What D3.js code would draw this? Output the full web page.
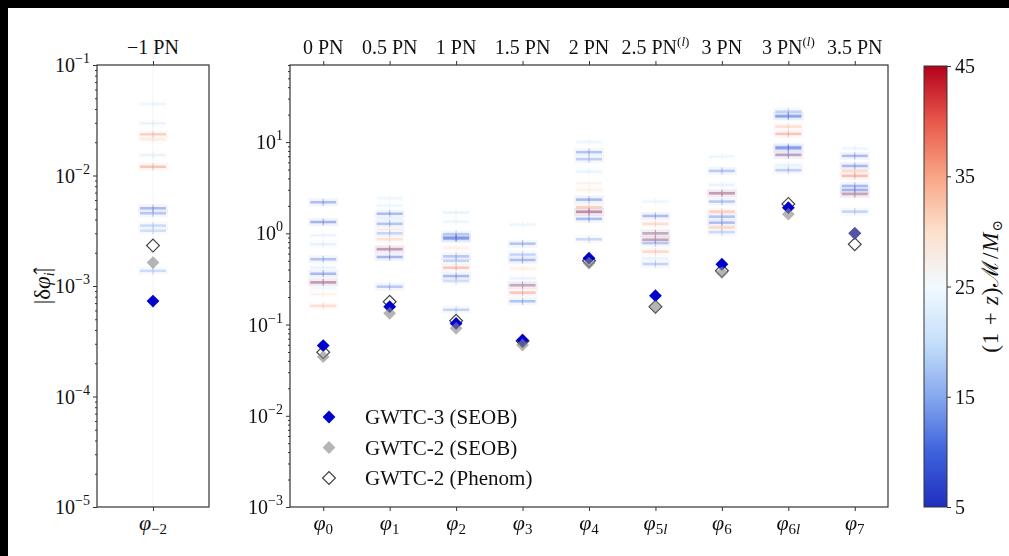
<!DOCTYPE html>
<html>
<head>
<meta charset="utf-8">
<script src="https://cdn.jsdelivr.net/npm/d3@7"></script>
<style>
  html, body { margin: 0; padding: 0; background: #000; }
  svg { display: block; }
  text { font-family: "Liberation Serif", "DejaVu Serif", serif; fill: #111; }
</style>
</head>
<body>
<svg id="chart" width="1009" height="556"></svg>
<script>
// ---- PN deformation coefficients (main panel) ----
const coeffSubs = ["0", "1", "2", "3", "4", "5l", "6", "6l", "7"];
const pnOrders  = ["0", "0.5", "1", "1.5", "2", "2.5", "3", "3", "3.5"];
const pnLogSup  = [false, false, false, false, false, true, false, true, false];

// Combined 90% upper bounds on |δφ_i|
const seob3   = [0.0588, 0.157, 0.103, 0.0673, 0.533, 0.207, 0.458, 1.91, 1.00];
const seob2   = [0.0445, 0.133, 0.091, 0.0597, 0.470, 0.157, 0.371, 1.62, 1.00];
const phenom2 = [0.0497, 0.178, 0.110, 0.0660, 0.500, 0.157, 0.390, 2.10, 0.76];

// Individual-event bounds and their detector-frame chirp masses
const eventBounds = [
  [2.19, 1.33, 0.95, 0.76, 0.52, 0.42, 0.36, 0.29, 0.29, 0.25, 0.215, 0.16],
  [2.43, 2.00, 1.64, 1.45, 1.27, 1.11, 1.00, 0.86, 0.67, 0.67, 0.55, 0.26],
  [1.69, 1.34, 0.98, 0.90, 0.87, 0.69, 0.56, 0.50, 0.42, 0.34, 0.30, 0.145],
  [1.24, 0.77, 0.585, 0.51, 0.41, 0.32, 0.27, 0.27, 0.224, 0.18],
  [10.0, 7.75, 6.50, 4.75, 3.54, 2.99, 2.34, 1.93, 1.72, 1.72, 1.44, 0.86],
  [2.23, 1.55, 1.27, 1.00, 1.00, 0.85, 0.85, 0.78, 0.63, 0.53, 0.46],
  [6.93, 4.83, 3.39, 2.75, 2.75, 2.23, 1.73, 1.52, 1.31, 1.16, 1.03],
  [21.6, 19.4, 19.0, 14.8, 12.3, 8.8, 8.5, 7.24, 7.24, 5.6, 4.92],
  [8.50, 7.06, 5.48, 4.83, 4.26, 3.31, 2.99, 2.70, 2.70, 1.73]
];
const eventMasses = [
  [10, 8, 22, 20, 11, 21, 9, 8, 38, 23, 29, 34],
  [22, 22, 10, 21, 11, 30, 14, 33, 9, 38, 8, 12],
  [21, 22, 13, 8, 9, 30, 12, 14, 38, 9, 16, 14],
  [22, 11, 14, 10, 30, 21, 9, 36, 38, 11],
  [22, 11, 13, 21, 29, 30, 9, 36, 9, 40, 10, 15],
  [22, 10, 34, 9, 36, 10, 37, 13, 35, 21, 14],
  [22, 12, 21, 9, 38, 12, 36, 11, 10, 35, 15],
  [14, 10, 12, 34, 38, 9, 10, 38, 12, 21, 13],
  [22, 10, 9, 34, 39, 10, 9, 10, 37, 14]
];

// ---- -1 PN coefficient (left panel) ----
const leftSub = "−2";
const leftSeob3 = [0.00073];
const leftSeob2 = [0.00163];
const leftPhenom2 = [0.00232];
const leftBounds = [0.0444, 0.0296, 0.0236, 0.0212, 0.0153, 0.0120, 0.00505, 0.00455, 0.00352, 0.00316, 0.00137];
const leftMasses = [22, 21, 36, 31, 21, 38, 10, 12, 15, 16, 15];

// ---- colour bar ----
const cbarTicks = [5, 15, 25, 35, 45];
const legendLabels = ["GWTC-3 (SEOB)", "GWTC-2 (SEOB)", "GWTC-2 (Phenom)"];

// diverging map for (1+z)M / Msun
const cmap = d3.scaleLinear()
  .domain([5, 10, 15, 20, 25, 30, 35, 40, 45])
  .range(["#1f2fbf", "#3d62dc", "#86a8ee", "#c6e0fa", "#f1faff", "#fde0cc", "#f8a585", "#e8584a", "#b4001c"])
  .interpolate(d3.interpolateRgb)
  .clamp(true);

const svg = d3.select("#chart");
svg.append("rect").attr("x", 8).attr("y", 8).attr("width", 1001).attr("height", 548).attr("fill", "#fff");

const defs = svg.append("defs");
defs.append("filter").attr("id", "soft").attr("x", "-20%").attr("y", "-20%").attr("width", "140%").attr("height", "140%")
  .append("feGaussianBlur").attr("stdDeviation", 0.6);

const FS = 20, SUPFS = 14;
const frameColor = "#333";

// panels
const plotTop = 65, plotBottom = 507;
const xMain = d3.scaleLinear().domain([-0.5, coeffSubs.length - 0.5]).range([290, 888]);
const yMain = d3.scaleLog().domain([1e-3, 70]).range([plotBottom, plotTop]);
const xLeft = d3.scaleLinear().domain([-0.5, 0.5]).range([97, 209]);
const yLeft = d3.scaleLog().domain([1e-5, 1e-1]).range([plotBottom, plotTop]);

function isDecade(t) {
  const l = Math.log10(t);
  return Math.abs(l - Math.round(l)) < 1e-9;
}

function logAxis(y, x0) {
  const all = y.ticks();
  const majors = all.filter(isDecade);
  const minors = all.filter(t => !isDecade(t));
  const g = svg.append("g").attr("transform", `translate(${x0},0)`);
  g.call(d3.axisLeft(y).tickValues(majors).tickSize(4).tickFormat(() => ""))
    .call(a => a.select(".domain").remove());
  g.append("g").call(d3.axisLeft(y).tickValues(minors).tickSize(2).tickFormat(() => ""))
    .call(a => a.select(".domain").remove());
  g.selectAll("line").attr("stroke", frameColor).attr("stroke-width", 1);
  majors.forEach(t => {
    const e = Math.round(Math.log10(t));
    const txt = g.append("text")
      .attr("x", -7).attr("y", y(t) + 7)
      .attr("text-anchor", "end")
      .attr("font-size", FS);
    txt.append("tspan").text("10");
    txt.append("tspan").attr("dy", -9).attr("font-size", SUPFS).text(e < 0 ? "−" + (-e) : String(e));
  });
}

function catTicks(x, n) {
  const vals = d3.range(n);
  svg.append("g").attr("transform", `translate(0,${plotTop})`)
    .call(d3.axisTop(x).tickValues(vals).tickSize(4).tickFormat(() => ""))
    .call(a => a.select(".domain").remove())
    .selectAll("line").attr("stroke", frameColor);
  svg.append("g").attr("transform", `translate(0,${plotBottom})`)
    .call(d3.axisBottom(x).tickValues(vals).tickSize(4).tickFormat(() => ""))
    .call(a => a.select(".domain").remove())
    .selectAll("line").attr("stroke", frameColor);
}

function phiLabel(xc, sub) {
  const t = svg.append("text").attr("x", xc).attr("y", 530).attr("text-anchor", "middle").attr("font-size", FS + 2);
  t.append("tspan").attr("font-style", "italic").text("φ");
  const s = t.append("tspan").attr("dy", 4).attr("font-size", SUPFS + 1);
  for (const ch of sub) {
    s.append("tspan").attr("font-style", ch === "l" ? "italic" : "normal").text(ch);
  }
}

function drawEvents(g, xc, y, bounds, masses) {
  bounds.forEach((v, k) => {
    const c = cmap(masses[k]);
    const yy = y(v);
    g.append("rect").attr("x", xc - 15).attr("y", yy - 4).attr("width", 30).attr("height", 8)
      .attr("fill", c).attr("opacity", 0.06);
    g.append("rect").attr("x", xc - 13).attr("y", yy - 1.3).attr("width", 26).attr("height", 2.6)
      .attr("fill", c).attr("opacity", 0.38);
    g.append("rect").attr("x", xc - 0.6).attr("y", yy - 3.5).attr("width", 1.2).attr("height", 7)
      .attr("fill", c).attr("opacity", 0.4);
  });
}

const diamond = d3.symbol(d3.symbolSquare, 82);
function drawMarkers(g, xc, y, vPhenom, vSeob3, vSeob2) {
  g.append("path").attr("d", diamond).attr("transform", `translate(${xc},${y(vPhenom)}) rotate(45)`)
    .attr("fill", "#fff").attr("stroke", "#444").attr("stroke-width", 1.2);
  g.append("path").attr("d", diamond).attr("transform", `translate(${xc},${y(vSeob3)}) rotate(45)`)
    .attr("fill", "#0000cd");
  g.append("path").attr("d", diamond).attr("transform", `translate(${xc},${y(vSeob2)}) rotate(45)`)
    .attr("fill", "#888").attr("fill-opacity", 0.62);
}

// ---------- left panel ----------
const leftC = xLeft(0);
svg.append("line").attr("x1", leftC).attr("x2", leftC).attr("y1", plotTop).attr("y2", plotBottom)
  .attr("stroke", "#9ab").attr("stroke-width", 1).attr("opacity", 0.12);
const gLeftEv = svg.append("g").attr("filter", "url(#soft)");
drawEvents(gLeftEv, leftC, yLeft, leftBounds, leftMasses);
drawMarkers(svg.append("g"), leftC, yLeft, leftPhenom2[0], leftSeob3[0], leftSeob2[0]);
svg.append("rect").attr("x", 97).attr("y", plotTop).attr("width", 112).attr("height", plotBottom - plotTop)
  .attr("fill", "none").attr("stroke", frameColor).attr("stroke-width", 1.2);
logAxis(yLeft, 97);
catTicks(xLeft, 1);
svg.append("text").attr("x", leftC).attr("y", 54).attr("text-anchor", "middle").attr("font-size", FS).text("−1 PN");
phiLabel(leftC, leftSub);

// y-axis title
const yt = svg.append("text").attr("transform", "translate(50,286) rotate(-90)")
  .attr("text-anchor", "middle").attr("font-size", FS + 3);
yt.append("tspan").text("|δ");
yt.append("tspan").attr("font-style", "italic").text("φ\u0302");
yt.append("tspan").attr("dy", 4).attr("font-size", SUPFS).attr("font-style", "italic").text("i");
yt.append("tspan").attr("dy", -4).text("|");

// ---------- main panel ----------
const gEv = svg.append("g").attr("filter", "url(#soft)");
coeffSubs.forEach((s, i) => drawEvents(gEv, xMain(i), yMain, eventBounds[i], eventMasses[i]));
const gMk = svg.append("g");
coeffSubs.forEach((s, i) => drawMarkers(gMk, xMain(i), yMain, phenom2[i], seob3[i], seob2[i]));
svg.append("rect").attr("x", 290).attr("y", plotTop).attr("width", 598).attr("height", plotBottom - plotTop)
  .attr("fill", "none").attr("stroke", frameColor).attr("stroke-width", 1.2);
logAxis(yMain, 290);
catTicks(xMain, coeffSubs.length);
coeffSubs.forEach((s, i) => phiLabel(xMain(i), s));
pnOrders.forEach((o, i) => {
  const t = svg.append("text").attr("x", xMain(i)).attr("y", 54).attr("text-anchor", "middle").attr("font-size", FS);
  t.append("tspan").text(o + " PN");
  if (pnLogSup[i]) {
    const s = t.append("tspan").attr("dy", -8).attr("font-size", SUPFS - 1);
    s.append("tspan").text("(");
    s.append("tspan").attr("font-style", "italic").text("l");
    s.append("tspan").text(")");
  }
});

// legend
const legendMarks = [
  { fill: "#0000cd", stroke: "none", op: 1 },
  { fill: "#888", stroke: "none", op: 0.62 },
  { fill: "#fff", stroke: "#444", op: 1 }
];
legendLabels.forEach((lab, k) => {
  const ly = 417 + k * 30.5;
  const m = legendMarks[k];
  svg.append("path").attr("d", diamond).attr("transform", `translate(329,${ly}) rotate(45)`)
    .attr("fill", m.fill).attr("fill-opacity", m.op).attr("stroke", m.stroke).attr("stroke-width", 1.2);
  svg.append("text").attr("x", 365).attr("y", ly + 7).attr("font-size", FS + 1).text(lab);
});

// ---------- colour bar ----------
const cbX = 924, cbW = 23;
const cbY = d3.scaleLinear().domain([5, 45]).range([plotBottom, 66]);
const grad = defs.append("linearGradient").attr("id", "cbar").attr("x1", 0).attr("y1", 1).attr("x2", 0).attr("y2", 0);
d3.range(0, 41).forEach(k => {
  const v = 5 + k;
  grad.append("stop").attr("offset", (k / 40)).attr("stop-color", cmap(v));
});
svg.append("rect").attr("x", cbX).attr("y", 66).attr("width", cbW).attr("height", plotBottom - 66)
  .attr("fill", "url(#cbar)").attr("stroke", frameColor).attr("stroke-width", 1);
const cbAxis = svg.append("g").attr("transform", `translate(${cbX + cbW},0)`)
  .call(d3.axisRight(cbY).tickValues(cbarTicks).tickSize(4).tickFormat(() => ""))
  .call(a => a.select(".domain").remove());
cbAxis.selectAll("line").attr("stroke", frameColor);
cbarTicks.forEach(t => {
  svg.append("text").attr("x", cbX + cbW + 8).attr("y", cbY(t) + 7).attr("font-size", FS).text(t);
});
const cl = svg.append("text").attr("transform", "translate(998,286) rotate(-90)")
  .attr("text-anchor", "middle").attr("font-size", FS + 3).attr("letter-spacing", 0.8);
cl.append("tspan").text("(1 + ");
cl.append("tspan").attr("font-style", "italic").text("z");
cl.append("tspan").text(")ℳ/");
cl.append("tspan").attr("font-style", "italic").text("M");
cl.append("tspan").attr("dy", 4).attr("font-size", SUPFS).text("⊙");
</script>
</body>
</html>
